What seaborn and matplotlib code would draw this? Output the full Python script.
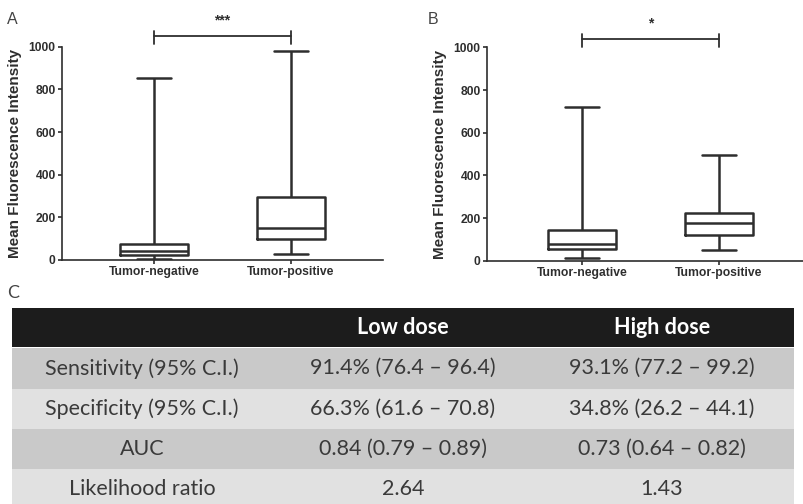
import numpy as np
import pandas as pd
import matplotlib
matplotlib.use('Agg')
import matplotlib.pyplot as plt
import seaborn as sns

# Five-number summaries: min, q1, median, q3, max
groups = ['Tumor-negative', 'Tumor-positive']
low_neg = [5, 24, 40, 74, 852]
low_pos = [28, 99, 150, 294, 978]
high_neg = [12, 55, 77, 146, 722]
high_pos = [50, 119, 175, 224, 494]
stars = ['***', '*']
bracket_y = [1052, 1039]

# Table C
col_headers = ['', 'Low dose', 'High dose']
row_labels = ['Sensitivity (95% C.I.)', 'Specificity (95% C.I.)', 'AUC', 'Likelihood ratio']
low_dose = ['91.4% (76.4 \u2013 96.4)', '66.3% (61.6 \u2013 70.8)', '0.84 (0.79 \u2013 0.89)', '2.64']
high_dose = ['93.1% (77.2 \u2013 99.2)', '34.8% (26.2 \u2013 44.1)', '0.73 (0.64 \u2013 0.82)', '1.43']

INK = '#2e2e2e'
W, H = 804, 504

sns.set_theme(style='ticks')
plt.rcParams['font.family'] = ['Liberation Sans', 'DejaVu Sans']


def make_frame(neg, pos):
    return pd.DataFrame({'group': np.repeat(groups, 5), 'mfi': neg + pos})


def box_panel(ax, neg, pos, star, by, xlim):
    df = make_frame(neg, pos)
    sns.boxplot(data=df, x='group', y='mfi', order=groups, whis=(0, 100),
                width=0.5, fill=False, color=INK, linewidth=1.8, ax=ax)
    ax.set_xlim(*xlim)
    ax.set_ylim(0, 1000)
    ax.set_yticks([0, 200, 400, 600, 800, 1000])
    ax.set_xlabel('')
    ax.set_ylabel('Mean Fluorescence Intensity', fontsize=11, fontweight='bold',
                  color=INK, labelpad=5)
    ax.tick_params(axis='both', colors=INK, width=1.2, length=3, pad=1.5,
                   labelsize=8.7)
    for lab in ax.get_xticklabels() + ax.get_yticklabels():
        lab.set_fontweight('bold')
    sns.despine(ax=ax)
    for s in ['left', 'bottom']:
        ax.spines[s].set_color(INK)
        ax.spines[s].set_linewidth(1.2)
    ax.set_facecolor('white')
    # significance bracket
    ax.plot([0, 1], [by, by], color=INK, lw=1.3, clip_on=False)
    ax.plot([0, 0], [by - 37, by + 23], color=INK, lw=1.3, clip_on=False)
    ax.plot([1, 1], [by - 37, by + 23], color=INK, lw=1.3, clip_on=False)
    ax.text(0.5, by + 40, star, ha='center', va='bottom', fontsize=10,
            fontweight='bold', color=INK, clip_on=False)


fig = plt.figure(figsize=(W / 100, H / 100), dpi=100)
fig.patch.set_facecolor('white')

axA = fig.add_axes([62 / W, 1 - 260 / H, (383 - 62) / W, 213.3 / H])
box_panel(axA, low_neg, low_pos, stars[0], bracket_y[0], (-0.672, 1.672))

axB = fig.add_axes([487 / W, 1 - 260.7 / H, (803 - 487) / W, 213.3 / H])
box_panel(axB, high_neg, high_pos, stars[1], bracket_y[1], (-0.693, 1.613))

fig.text(7 / W, 1 - 23.5 / H, 'A', fontsize=11.5, color='#444444', va='baseline')
fig.text(428 / W, 1 - 23.5 / H, 'B', fontsize=11.5, color='#444444', va='baseline')
fig.text(7 / W, 1 - 298.5 / H, 'C', fontsize=13, color='#444444', va='baseline',
         family='Lato')

# Table C
left, right, top = 11.7, 794, 308.3
tax = fig.add_axes([left / W, 0, (right - left) / W, (H - top) / H])
tax.set_xlim(left, right)
tax.set_ylim(H - top, 0)
tax.axis('off')
col_x = [142, 403, 662]
row_colors = ['#c9c9c9', '#e1e1e1']

tax.axhspan(0, 38.5, color='#1c1c1c', lw=0)
for j, txt in enumerate(col_headers):
    tax.text(col_x[j], 19.5, txt, ha='center', va='center', fontsize=15.5,
             fontweight='bold', color='white', family='Lato')

for i, cells in enumerate(zip(row_labels, low_dose, high_dose)):
    y0 = 40 + 40.3 * i
    tax.axhspan(y0, y0 + 40.3, color=row_colors[i % 2], lw=0)
    for j, txt in enumerate(cells):
        tax.text(col_x[j], y0 + 20, txt, ha='center', va='center', fontsize=15.5,
                 color='#3a3a3a', family='Lato')

fig.savefig('out.png', dpi=100)
